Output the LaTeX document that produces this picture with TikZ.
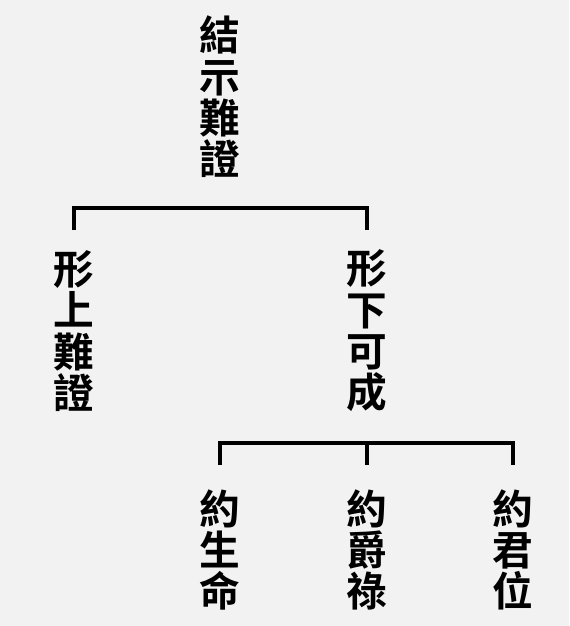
\documentclass[tikz,border=0pt]{standalone}
\usepackage{fontspec}
\newfontfamily\cjk{Noto Sans CJK TC}[BoldFont={Noto Sans CJK TC Bold}]
\definecolor{bggray}{HTML}{F2F2F2}
\begin{document}
\begin{tikzpicture}[x=0.75pt, y=-0.75pt,
  every node/.style={font=\cjk\bfseries\fontsize{30.5pt}{31pt}\selectfont},
  term/.style={align=center, inner xsep=0pt, inner ysep=15pt},
  link/.style={line width=3pt, line cap=butt, line join=miter}]
\fill[bggray] (0,0) rectangle (569,626);
\useasboundingbox (0,0) rectangle (569,626);
\node[term] (root) at (220,97) {結\\示\\難\\證};
\node[term] (shang) at (74,331) {形\\上\\難\\證};
\node[term] (xia) at (367,331) {形\\下\\可\\成};
\node[term, inner ysep=18pt] (sheng) at (220,550) {約\\生\\命};
\node[term, inner ysep=18pt] (jue) at (367,550) {約\\爵\\祿};
\node[term, inner ysep=18pt] (jun) at (513,550) {約\\君\\位};
\draw[link] (shang.north) -- ++(0,-22) -| (xia.north);
\draw[link] (sheng.north) -- ++(0,-22) -| (jun.north);
\draw[link] (jue.north) -- ++(0,-22);
\end{tikzpicture}
\end{document}
